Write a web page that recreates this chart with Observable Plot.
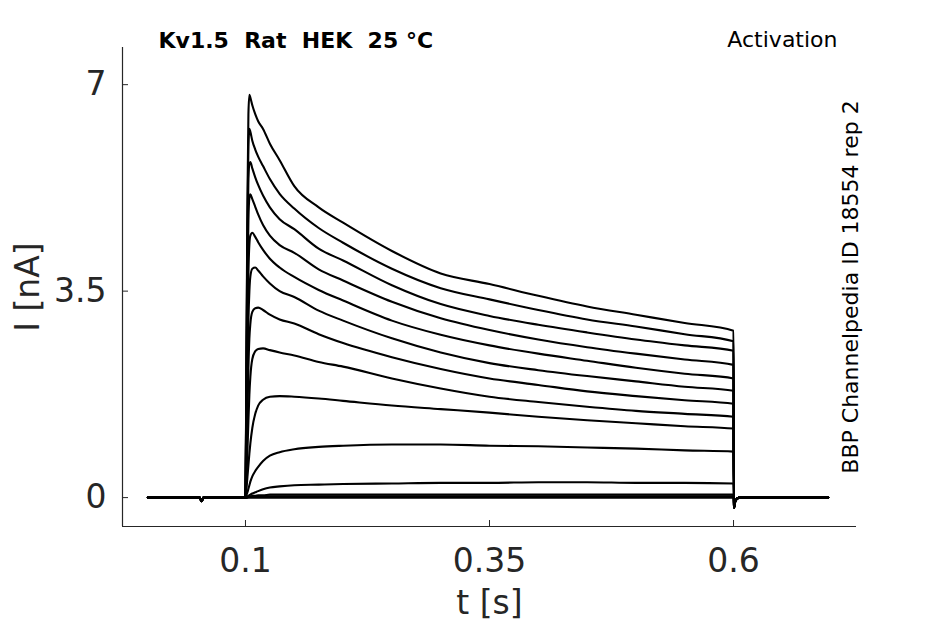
<!DOCTYPE html>
<html>
<head>
<meta charset="utf-8">
<script src="https://cdn.jsdelivr.net/npm/d3@7"></script>
<script src="https://cdn.jsdelivr.net/npm/@observablehq/plot@0.6"></script>
<style>
  html, body { margin: 0; padding: 0; background: #fff; }
  svg text { white-space: pre; }
</style>
</head>
<body>
<div id="chart"></div>
<script>
// ---- data ----
const titleText = "Kv1.5  Rat  HEK  25 °C";
const protocolText = "Activation";
const sourceText = "BBP Channelpedia ID 18554 rep 2";
const xLabel = "t [s]";
const yLabel = "I [nA]";

const xTicks = [0.1, 0.35, 0.6];
const yTicks = [0, 3.5, 7];
const xDomain = [-0.026, 0.726];
const yDomain = [-0.49, 7.63];

// holding period before the step
const tPre = [0, 0.053, 0.055, 0.057];
const iPre = [0, 0, -0.06, 0];

// times during the voltage step
const tPulse = [0.1, 0.101, 0.102, 0.103, 0.104, 0.105, 0.107, 0.11, 0.113, 0.118, 0.125, 0.135, 0.15, 0.175, 0.2, 0.25, 0.3, 0.35, 0.4, 0.45, 0.5, 0.55, 0.6];

// tail after the step
const tPost = [0.6005, 0.602, 0.606, 0.697];
const iPost = [-0.17, -0.05, 0, 0];

// current (nA) of each sweep at tPulse
const sweep01 = [0, 2.5, 5.0, 6.5, 6.83, 6.78, 6.65, 6.5, 6.38, 6.25, 6.0, 5.72, 5.28, 4.92, 4.66, 4.18, 3.80, 3.62, 3.42, 3.24, 3.10, 2.96, 2.83];
const sweep02 = [0, 2.3, 4.6, 5.95, 6.25, 6.2, 6.05, 5.9, 5.78, 5.62, 5.4, 5.15, 4.9, 4.57, 4.32, 3.88, 3.55, 3.36, 3.18, 3.02, 2.90, 2.77, 2.65];
const sweep03 = [0, 2.1, 4.2, 5.4, 5.66, 5.69, 5.58, 5.43, 5.3, 5.12, 4.92, 4.72, 4.55, 4.22, 4.02, 3.6, 3.28, 3.08, 2.93, 2.80, 2.68, 2.58, 2.49];
const sweep04 = [0, 1.8, 3.6, 4.7, 5.08, 5.14, 5.06, 4.93, 4.8, 4.62, 4.44, 4.28, 4.15, 3.87, 3.68, 3.32, 3.04, 2.84, 2.68, 2.55, 2.44, 2.34, 2.25];
const sweep05 = [0, 1.4, 2.8, 3.8, 4.3, 4.44, 4.49, 4.42, 4.33, 4.2, 4.05, 3.9, 3.74, 3.52, 3.34, 3.0, 2.76, 2.58, 2.44, 2.32, 2.2, 2.1, 2.02];
const sweep06 = [0, 1.0, 2.1, 3.0, 3.5, 3.75, 3.88, 3.9, 3.85, 3.75, 3.63, 3.5, 3.4, 3.17, 3.0, 2.7, 2.46, 2.28, 2.16, 2.06, 1.97, 1.88, 1.81];
const sweep07 = [0, 0.6, 1.4, 2.2, 2.7, 2.95, 3.15, 3.21, 3.22, 3.18, 3.1, 3.02, 2.95, 2.77, 2.62, 2.38, 2.18, 2.02, 1.91, 1.8, 1.72, 1.65, 1.59];
const sweep08 = [0, 0.35, 0.8, 1.3, 1.75, 2.05, 2.35, 2.48, 2.52, 2.53, 2.5, 2.46, 2.41, 2.3, 2.22, 2.02, 1.85, 1.71, 1.62, 1.54, 1.47, 1.42, 1.37];
const sweep09 = [0, 0.15, 0.35, 0.55, 0.75, 0.92, 1.18, 1.42, 1.56, 1.66, 1.71, 1.72, 1.71, 1.68, 1.64, 1.56, 1.50, 1.44, 1.37, 1.31, 1.26, 1.21, 1.17];
const sweep10 = [0, 0.04, 0.09, 0.15, 0.21, 0.27, 0.36, 0.45, 0.52, 0.62, 0.71, 0.77, 0.82, 0.86, 0.88, 0.9, 0.9, 0.88, 0.87, 0.85, 0.83, 0.8, 0.78];
const sweep11 = [0, 0.01, 0.02, 0.03, 0.04, 0.05, 0.07, 0.09, 0.11, 0.14, 0.17, 0.19, 0.21, 0.22, 0.23, 0.24, 0.25, 0.25, 0.26, 0.26, 0.25, 0.25, 0.24];
const sweep12 = [0, 0, 0.01, 0.01, 0.02, 0.02, 0.03, 0.03, 0.04, 0.04, 0.05, 0.05, 0.05, 0.05, 0.05, 0.05, 0.05, 0.05, 0.05, 0.05, 0.05, 0.05, 0.05];
const sweep13 = [0, 0, 0, 0.01, 0.01, 0.01, 0.01, 0.02, 0.02, 0.02, 0.02, 0.02, 0.02, 0.02, 0.02, 0.02, 0.02, 0.02, 0.02, 0.02, 0.02, 0.02, 0.02];
const sweep14 = [0, 0, 0, 0, 0, 0, 0, 0, 0, 0, 0, 0, 0, 0, 0, 0, 0, 0, 0, 0, 0, 0, 0];

const sweeps = [sweep01, sweep02, sweep03, sweep04, sweep05, sweep06, sweep07,
                sweep08, sweep09, sweep10, sweep11, sweep12, sweep13, sweep14];

// ---- build table ----
const rows = [];
sweeps.forEach((s, k) => {
  tPre.forEach((t, j) => rows.push({t, i: iPre[j], sweep: k}));
  tPulse.forEach((t, j) => rows.push({t, i: s[j], sweep: k}));
  tPost.forEach((t, j) => rows.push({t, i: iPost[j], sweep: k}));
});

const axisColor = "#262626";

const chart = Plot.plot({
  width: 945,
  height: 624,
  marginLeft: 122,
  marginRight: 89,
  marginTop: 47,
  marginBottom: 98,
  style: {fontFamily: "DejaVu Sans", background: "#fff", color: axisColor},
  x: {domain: xDomain},
  y: {domain: yDomain},
  marks: [
    Plot.line(rows, {x: "t", y: "i", z: "sweep", stroke: "#000", strokeWidth: 2.1, strokeLinejoin: "round", curve: "monotone-x"}),
    Plot.ruleX([xDomain[0]], {stroke: axisColor, strokeWidth: 1.2}),
    Plot.ruleY([yDomain[0]], {stroke: axisColor, strokeWidth: 1.2}),
    Plot.axisX(xTicks, {tickSize: -6, tickPadding: 28, fontSize: 33, label: null, stroke: axisColor, fill: axisColor, tickFormat: d => String(d)}),
    Plot.axisY(yTicks, {tickSize: -6, tickPadding: 22, fontSize: 33, label: null, stroke: axisColor, fill: axisColor, tickFormat: d => String(d)}),
    Plot.text([xLabel], {text: d => d, frameAnchor: "bottom", dy: 77, fontSize: 33, fill: axisColor, textAnchor: "middle", lineAnchor: "middle"}),
    Plot.text([yLabel], {text: d => d, frameAnchor: "left", dx: -94, rotate: -90, fontSize: 33, fill: axisColor, textAnchor: "middle", lineAnchor: "middle"}),
    Plot.text([titleText], {text: d => d, frameAnchor: "top-left", dx: 36, dy: -7, fontSize: 22, fontWeight: "bold", fill: "#000", textAnchor: "start", lineAnchor: "middle"}),
    Plot.text([protocolText], {text: d => d, frameAnchor: "top-right", dx: -19, dy: -8, fontSize: 22, fill: "#000", textAnchor: "end", lineAnchor: "middle"}),
    Plot.text([sourceText], {text: d => d, frameAnchor: "right", dx: -6, rotate: -90, fontSize: 22, fill: "#000", textAnchor: "middle", lineAnchor: "middle"})
  ]
});
document.getElementById("chart").appendChild(chart);
</script>
</body>
</html>
